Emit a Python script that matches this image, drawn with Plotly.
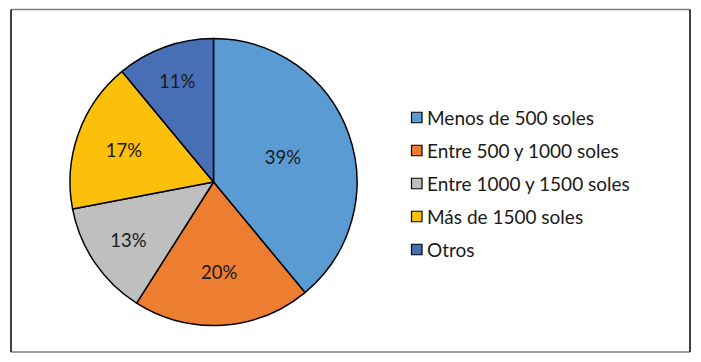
import plotly.graph_objects as go

categories = ["Menos de 500 soles", "Entre 500 y 1000 soles", "Entre 1000 y 1500 soles",
              "Más de 1500 soles", "Otros"]
values = [39, 20, 13, 17, 11]
colors = ["#5B9BD3", "#ED7D31", "#BFBFBF", "#FCBF0A", "#486FB5"]

W, H = 701, 362
FONT = "Lato"

fig = go.Figure()
fig.add_trace(go.Pie(
    labels=categories, values=values, sort=False, direction="clockwise", rotation=0,
    marker=dict(colors=colors, line=dict(color="black", width=1.5)),
    textinfo="percent", texttemplate="%{percent:.0%}", textposition="inside",
    insidetextorientation="horizontal",
    textfont=dict(family=FONT, size=18.5, color="#1a1a1a"),
    domain=dict(x=[70 / W, 357 / W], y=[1 - 326 / H, 1 - 38 / H]),
    showlegend=False, hoverinfo="label+percent",
))

shapes = []
annotations = []


def px(x):
    return x / W


def py(y):
    return 1 - y / H


# outer frame
shapes.append(dict(type="line", xref="paper", yref="paper", x0=px(11), x1=px(690), y0=py(9.5), y1=py(9.5),
                   line=dict(color="#7f7f7f", width=1.5)))
shapes.append(dict(type="line", xref="paper", yref="paper", x0=px(11), x1=px(690), y0=py(352), y1=py(352),
                   line=dict(color="#7f7f7f", width=1.5)))
shapes.append(dict(type="line", xref="paper", yref="paper", x0=px(11), x1=px(11), y0=py(9.5), y1=py(352),
                   line=dict(color="black", width=1.5)))
shapes.append(dict(type="line", xref="paper", yref="paper", x0=px(690), x1=px(690), y0=py(9.5), y1=py(352),
                   line=dict(color="black", width=1.5)))

# legend
leg_x0, leg_y0, leg_dy, sq = 411.5, 117.5, 33, 10.5
for i, (name, col) in enumerate(zip(categories, colors)):
    cy = leg_y0 + i * leg_dy
    shapes.append(dict(type="rect", xref="paper", yref="paper",
                       x0=px(leg_x0), x1=px(leg_x0 + sq), y0=py(cy + sq / 2), y1=py(cy - sq / 2),
                       fillcolor=col, line=dict(color="black", width=1.2)))
    annotations.append(dict(xref="paper", yref="paper", x=px(leg_x0 + sq + 3), y=py(cy),
                            xanchor="left", yanchor="middle", showarrow=False, text=name,
                            font=dict(family=FONT, size=19, color="#1a1a1a")))

fig.update_layout(
    width=W, height=H, margin=dict(l=0, r=0, t=0, b=0),
    paper_bgcolor="white", plot_bgcolor="white",
    shapes=shapes, annotations=annotations,
    font=dict(family=FONT),
)
fig.write_html("out.html", config={"displayModeBar": False},
               post_script="document.body.style.margin='0';")
